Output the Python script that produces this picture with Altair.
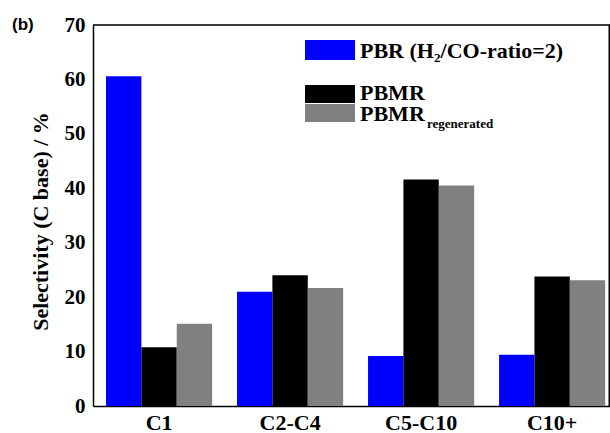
import altair as alt
import pandas as pd

categories = ["C1", "C2-C4", "C5-C10", "C10+"]
series = ["PBR", "PBMR", "PBMR_regenerated"]
pbr = [60.6, 21.0, 9.2, 9.4]
pbmr = [10.8, 24.0, 41.6, 23.8]
pbmr_regen = [15.1, 21.7, 40.5, 23.1]
colors = ["#0000FF", "#000000", "#808080"]
y_ticks = [0, 10, 20, 30, 40, 50, 60, 70]

rows = []
for s, vals in zip(series, [pbr, pbmr, pbmr_regen]):
    for c, v in zip(categories, vals):
        rows.append({"category": c, "series": s, "value": v})
df = pd.DataFrame(rows)

FONT = "Liberation Serif"
W, H = 517, 381

bars = alt.Chart(df).mark_bar().encode(
    x=alt.X("category:N", sort=categories,
            scale=alt.Scale(paddingInner=0.19, paddingOuter=0.068, align=0.73),
            axis=alt.Axis(title=None, labelAngle=0, ticks=False, labelPadding=6,
                          labelFont=FONT, labelFontSize=22, labelFontWeight="bold",
                          labelColor="black", domainColor="black", domainWidth=1.5)),
    xOffset=alt.XOffset("series:N", sort=series,
                        scale=alt.Scale(paddingInner=0, paddingOuter=0)),
    y=alt.Y("value:Q", scale=alt.Scale(domain=[0, 70], nice=False),
            axis=alt.Axis(title="Selectivity (C base) / %", values=y_ticks, ticks=False,
                          grid=False, labelPadding=8, titleY=196,
                          labelFont=FONT, labelFontSize=21, labelFontWeight="bold",
                          labelColor="black", titleFont=FONT, titleFontSize=22,
                          titleFontWeight="bold", titleColor="black", titlePadding=12,
                          domainColor="black", domainWidth=1.5)),
    color=alt.Color("series:N", sort=series,
                    scale=alt.Scale(domain=series, range=colors), legend=None),
)

one = pd.DataFrame({"a": [0]})
layers = [bars]

# top and right frame lines
layers.append(alt.Chart(one).mark_rule(color="black", strokeWidth=1.5).encode(
    x=alt.value(0), x2=alt.value(W), y=alt.value(0)))
layers.append(alt.Chart(one).mark_rule(color="black", strokeWidth=1.5).encode(
    x=alt.value(W - 0.75), y=alt.value(0), y2=alt.value(H)))

legend_items = [
    # (rect y, rect y2, label, label baseline y)
    (15, 35, "PBR (H\u2082/CO-ratio=2)", 33),
    (60, 78, "PBMR", 75),
    (79, 97, "PBMR", 96),
]
for col, (y1, y2, label, ly) in zip(colors, legend_items):
    layers.append(alt.Chart(one).mark_rect(color=col).encode(
        x=alt.value(212), x2=alt.value(262), y=alt.value(y1), y2=alt.value(y2)))
    layers.append(alt.Chart(one).mark_text(
        text=label, font=FONT, fontSize=22, fontWeight="bold", color="black",
        align="left", baseline="alphabetic").encode(x=alt.value(267), y=alt.value(ly)))

layers.append(alt.Chart(one).mark_text(
    text="regenerated", font=FONT, fontSize=13, fontWeight="bold", color="black",
    align="left", baseline="alphabetic").encode(x=alt.value(334), y=alt.value(103)))

layers.append(alt.Chart(one).mark_text(
    text="(b)", font="Liberation Sans", fontSize=17, fontWeight="bold", color="black",
    align="left", baseline="middle").encode(x=alt.value(-81), y=alt.value(0)))

chart = alt.layer(*layers).properties(
    width=W, height=H,
    autosize=alt.AutoSizeParams(type="none"),
    padding={"left": 93, "top": 25, "right": 0, "bottom": 27},
).configure_view(stroke="transparent", strokeWidth=0).configure_axis(
    labelFont=FONT, titleFont=FONT, labelFontWeight="bold", titleFontWeight="bold"
).configure(background="white")

chart.save("out.html", embed_options={"renderer": "svg", "actions": False})
